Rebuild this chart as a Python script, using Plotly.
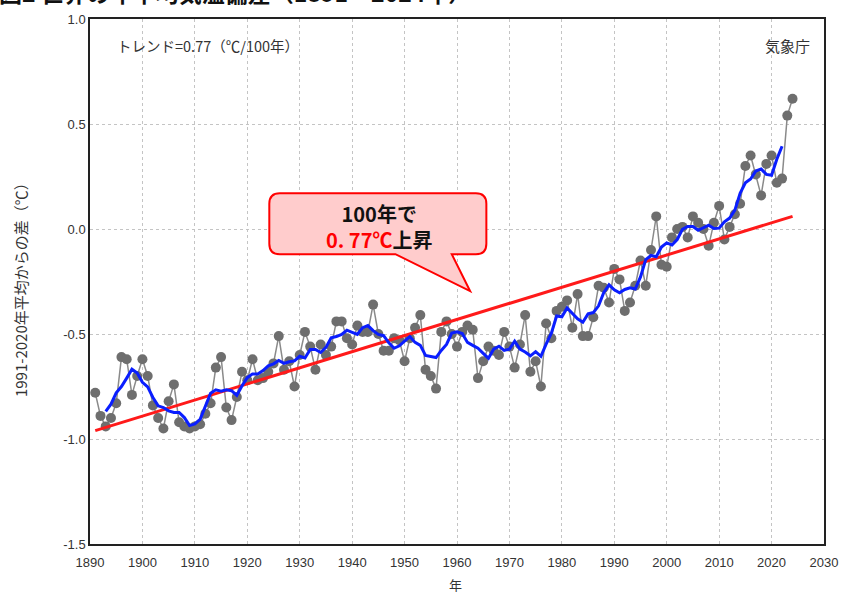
import plotly.graph_objects as go
import pandas as pd

# ---- data ----
years = list(range(1891, 2025))
anomaly = [
    -0.78, -0.89, -0.94, -0.90, -0.83, -0.61, -0.62, -0.79, -0.70, -0.62,   # 1891-1900
    -0.70, -0.84, -0.90, -0.95, -0.82, -0.74, -0.92, -0.94, -0.95, -0.94,   # 1901-1910
    -0.93, -0.88, -0.83, -0.66, -0.61, -0.85, -0.91, -0.80, -0.68, -0.72,   # 1911-1920
    -0.62, -0.72, -0.71, -0.68, -0.64, -0.51, -0.67, -0.63, -0.75, -0.60,   # 1921-1930
    -0.49, -0.56, -0.67, -0.55, -0.60, -0.56, -0.44, -0.44, -0.52, -0.55,   # 1931-1940
    -0.46, -0.49, -0.49, -0.36, -0.50, -0.58, -0.58, -0.52, -0.53, -0.63,   # 1941-1950
    -0.52, -0.47, -0.41, -0.67, -0.70, -0.76, -0.49, -0.44, -0.50, -0.56,   # 1951-1960
    -0.49, -0.46, -0.48, -0.71, -0.63, -0.56, -0.58, -0.60, -0.49, -0.56,   # 1961-1970
    -0.66, -0.55, -0.41, -0.68, -0.63, -0.75, -0.45, -0.52, -0.39, -0.37,   # 1971-1980
    -0.34, -0.47, -0.31, -0.51, -0.51, -0.42, -0.27, -0.28, -0.35, -0.19,   # 1981-1990
    -0.24, -0.39, -0.35, -0.27, -0.15, -0.27, -0.10, 0.06, -0.17, -0.18,    # 1991-2000
    -0.04, 0.00, 0.01, -0.04, 0.06, 0.03, 0.00, -0.08, 0.03, 0.11,          # 2001-2010
    -0.05, 0.01, 0.07, 0.12, 0.30, 0.35, 0.26, 0.16, 0.31, 0.35,            # 2011-2020
    0.22, 0.24, 0.54, 0.62,                                                 # 2021-2024
]
# 5-year running mean (blue line)
running5 = pd.Series(anomaly, index=years).rolling(5, center=True).mean()

# long-term trend (0.77 C / 100 years)
trend_years = [1891, 2024]
trend_vals = [-0.96, 0.06]

x_ticks = list(range(1890, 2031, 10))
y_ticks = [1.0, 0.5, 0.0, -0.5, -1.0, -1.5]
y_tick_text = ["1.0", "0.5", "0.0", "-0.5", "-1.0", "-1.5"]

title_text = "図2 世界の年平均気温偏差（1891～2024年）"
trend_note = "トレンド=0.77（℃/100年）"
source_note = "気象庁"
y_title = "1991-2020年平均からの差（℃）"
x_title = "年"

fig = go.Figure()
fig.add_trace(go.Scatter(
    x=years, y=anomaly, mode="lines+markers",
    line=dict(color="#8a8a8a", width=1.5),
    marker=dict(color="#6e6e6e", size=10),
    showlegend=False, hoverinfo="skip"))
fig.add_trace(go.Scatter(
    x=trend_years, y=trend_vals, mode="lines",
    line=dict(color="#ff1a1a", width=3),
    showlegend=False, hoverinfo="skip"))
fig.add_trace(go.Scatter(
    x=list(running5.index), y=list(running5.values), mode="lines",
    line=dict(color="#0a1eff", width=3),
    connectgaps=False, showlegend=False, hoverinfo="skip"))

# callout bubble
x0, x1, y0, y1 = 1924.2, 1965.6, -0.12, 0.17
rx, ry = 2.0, 0.05
tb0, tb1, tipx, tipy = 1948.25, 1959.0, 1962.5, -0.296
path = (f"M {x0+rx},{y1} L {x1-rx},{y1} Q {x1},{y1} {x1},{y1-ry} "
        f"L {x1},{y0+ry} Q {x1},{y0} {x1-rx},{y0} L {tb1},{y0} L {tipx},{tipy} "
        f"L {tb0},{y0} L {x0+rx},{y0} Q {x0},{y0} {x0},{y0+ry} "
        f"L {x0},{y1-ry} Q {x0},{y1} {x0+rx},{y1} Z")
fig.add_shape(type="path", path=path, xref="x", yref="y",
              fillcolor="#ffcccc", line=dict(color="#ff0000", width=2))

cjk = "Noto Sans CJK JP"
fig.add_annotation(x=1945.1, y=0.014, xref="x", yref="y", showarrow=False,
                   xanchor="center", yanchor="middle",
                   text="<b>100年で<br><span style='color:#ff0000'>0. 77℃</span>上昇</b>",
                   font=dict(family=cjk, size=20, color="#111"))

fig.add_annotation(x=0.0334, y=0.9498, xref="paper", yref="paper", showarrow=False,
                   xanchor="left", yanchor="middle", text=trend_note,
                   font=dict(family=cjk, size=14.5, color="#333"))
fig.add_annotation(x=0.984, y=0.9498, xref="paper", yref="paper", showarrow=False,
                   xanchor="right", yanchor="middle", text=source_note,
                   font=dict(family=cjk, size=15, color="#333"))
fig.add_annotation(x=-0.0956, y=0.491, xref="paper", yref="paper", showarrow=False,
                   xanchor="center", yanchor="middle",
                   textangle=-90, text=y_title,
                   font=dict(family=cjk, size=15, color="#333"))
fig.add_annotation(x=0.498, y=-0.0777, xref="paper", yref="paper", showarrow=False,
                   xanchor="center", yanchor="middle",
                   text=x_title, font=dict(family=cjk, size=13, color="#333"))
fig.add_annotation(x=-0.1228, y=1, xref="paper", yref="paper", showarrow=False,
                   xanchor="left", yanchor="bottom", yshift=8, xshift=-3,
                   text="<b>" + title_text + "</b>",
                   font=dict(family=cjk, size=23, color="#111"))

axis_common = dict(showline=True, mirror=True, linecolor="#222", linewidth=1.5,
                   showgrid=True, gridcolor="#c4c4c4", griddash="3px,3px", gridwidth=1,
                   zeroline=False, ticks="",
                   tickfont=dict(family="Liberation Sans", size=13, color="#333"))

fig.update_xaxes(range=[1890, 2030], tickvals=x_ticks, ticklabelstandoff=6, **axis_common)
fig.update_yaxes(range=[-1.5, 1.0], tickvals=y_ticks, ticktext=y_tick_text, **axis_common)

fig.update_layout(
    width=850, height=594,
    margin=dict(l=90, r=23, t=17, b=50),
    plot_bgcolor="white", paper_bgcolor="white",
    showlegend=False,
)
fig.write_html("out.html", config={"displayModeBar": False},
               post_script="document.body.style.margin='0';")
